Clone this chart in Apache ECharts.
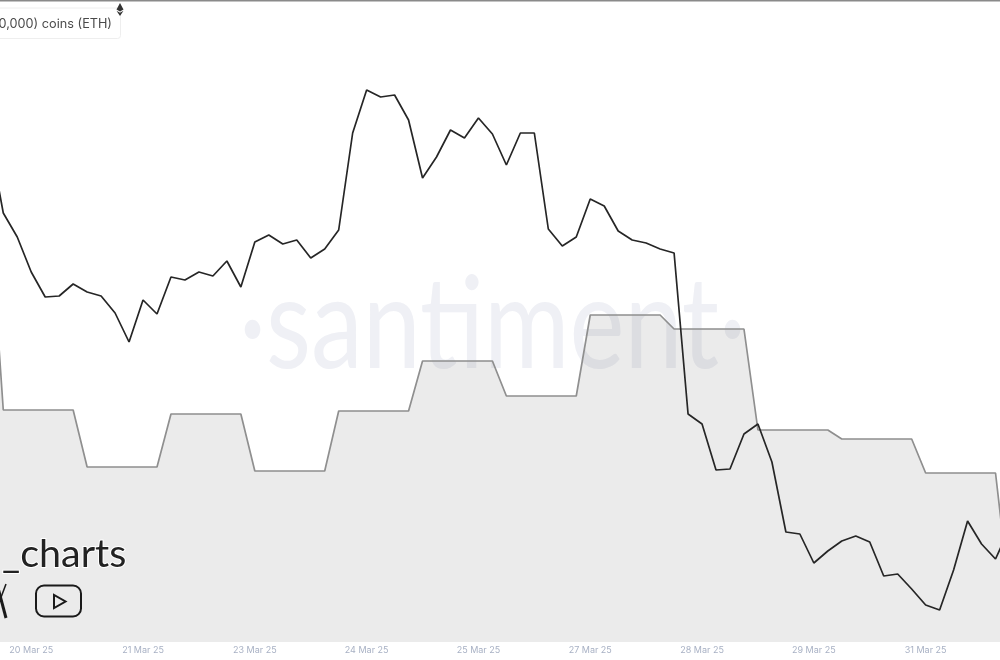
<!DOCTYPE html>
<html>
<head>
<meta charset="utf-8">
<style>html,body{margin:0;padding:0;background:#fff}#c{width:1000px;height:660px}</style>
<script src="https://cdn.jsdelivr.net/npm/echarts@6/dist/echarts.min.js"></script>
</head>
<body>
<div id="c"></div>
<script>
// The source has no y axis, so values are relative heights read from the picture.
const priceValues = [505,429,405,370,345,346,358,350,346,329,300,342,328,365,362,370,366,381,355,400,407,398,402,384,393,412,509,552,545,547,522,464,485,512,504,524,508,477,509,509,413,396,405,443,436,411,402,399,393,389,228,218,172,173,208,218,180,110,108,79,91,101,106,100,66,68,53,37,32,72,121,98,83,114];
const supplyValues = [437,232,232,232,232,232,232,175,175,175,175,175,175,228,228,228,228,228,228,171,171,171,171,171,171,231,231,231,231,231,231,281,281,281,281,281,281,246,246,246,246,246,246,327,327,327,327,327,327,313,313,313,313,313,313,212,212,212,212,212,212,203,203,203,203,203,203,169,169,169,169,169,169,47];
const months = ['Jan','Feb','Mar','Apr'];
const firstTime = Date.UTC(2025, 2, 19, 20);
const stepHours = 4;
const categories = priceValues.map((_, i) => {
  const d = new Date(firstTime + i * stepHours * 3600000);
  return String(d.getUTCDate()).padStart(2, '0') + ' ' + months[d.getUTCMonth()] + ' 25';
});
const legendText = '0,000) coins (ETH)';
const watermarkText = '·santiment·';
const handleText = '_charts';

const chart = echarts.init(document.getElementById('c'), null, {renderer: 'canvas'});
chart.setOption({
  animation: false,
  backgroundColor: '#ffffff',
  grid: {left: -10.7, top: 0, width: 1020.2, height: 642, containLabel: false, outerBoundsMode: 'none'},
  xAxis: {
    type: 'category', boundaryGap: false, data: categories,
    axisLine: {show: false}, axisTick: {show: false}, splitLine: {show: false},
    axisLabel: {
      interval: (i) => i % 8 === 3,
      color: '#a8b1c4', fontSize: 9, fontFamily: 'Inter', margin: 4
    }
  },
  yAxis: {type: 'value', min: 0, max: 642, show: false, splitLine: {show: false}},
  series: [
    {type: 'line', name: 'Supply', data: supplyValues, showSymbol: false, smooth: false, z: 2,
     lineStyle: {color: '#8f8f8f', width: 1.7},
     areaStyle: {color: 'rgba(0,0,0,0.08)', opacity: 1, origin: 'start'}},
    {type: 'line', name: 'Price', data: priceValues, showSymbol: false, smooth: false, z: 3,
     lineStyle: {color: '#262626', width: 1.7}}
  ],
  graphic: [
    {type: 'rect', z: 100, shape: {x: 0, y: 0, width: 1000, height: 1.5}, style: {fill: '#8a8a8a'}},
    {type: 'text', z: 0, x: 492.5, y: 327, scaleY: 1.23, style: {text: watermarkText, font: '400 104px Lato', fill: '#eff0f5', textAlign: 'center', textVerticalAlign: 'middle'}},
    {type: 'rect', z: 100, shape: {x: -10, y: 8, width: 130.5, height: 30.5, r: 3}, style: {fill: '#ffffff', stroke: '#eeeeee', lineWidth: 1}},
    {type: 'text', z: 101, x: 112, y: 24, style: {text: legendText, font: '12.7px Inter', fill: '#4a4a4a', textAlign: 'right', textVerticalAlign: 'middle'}},
    {type: 'polygon', z: 102, shape: {points: [[120,3],[123.5,9.5],[120,11.5],[116.5,9.5]]}, style: {fill: '#333333'}},
    {type: 'polygon', z: 102, shape: {points: [[120,12.8],[123.5,10.8],[120,16],[116.5,10.8]]}, style: {fill: '#333333'}},
    {type: 'text', z: 50, x: 2, y: 554, style: {text: handleText, font: '400 39.5px Lato', fill: '#222222', textAlign: 'left', textVerticalAlign: 'middle', stroke: '#ffffff', lineWidth: 2, strokeFirst: true}},
    {type: 'rect', z: 50, shape: {x: 36, y: 585.5, width: 45, height: 31, r: 8}, style: {fill: 'none', stroke: '#1a1a1a', lineWidth: 2}},
    {type: 'polygon', z: 50, shape: {points: [[54,595],[54,608],[65.5,601.5]]}, style: {fill: 'none', stroke: '#1a1a1a', lineWidth: 2}},
    {type: 'polyline', z: 50, shape: {points: [[-3,584],[6,618]]}, style: {fill: 'none', stroke: '#1a1a1a', lineWidth: 3}},
    {type: 'polyline', z: 50, shape: {points: [[6,584],[-3,608]]}, style: {fill: 'none', stroke: '#1a1a1a', lineWidth: 1.5}}
  ]
});
</script>
</body>
</html>
